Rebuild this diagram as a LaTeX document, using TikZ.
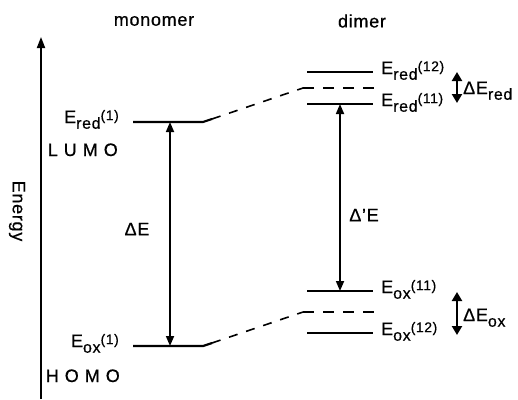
\documentclass[tikz,border=0pt]{standalone}
\usepackage{fontspec}
\setmainfont[LetterSpace=4,FakeBold=0.6]{Liberation Sans}
\usetikzlibrary{arrows.meta}
% energy symbol with subscript and bracketed superscript
\newcommand{\lvl}[2]{E\raisebox{-0.6ex}{\fontsize{16}{16}\selectfont #1}\raisebox{0.3ex}{\fontsize{14}{14}\selectfont(#2)}}
\newcommand{\dsub}[2]{ΔE\raisebox{-0.6ex}{\fontsize{16}{16}\selectfont #2}}
\begin{document}
\begin{tikzpicture}[x=1pt,y=-1pt,font=\fontsize{18}{20}\selectfont,
  level/.style={line width=2.2pt},
  midlevel/.style={line width=1.8pt,dash pattern=on 11pt off 9pt},
  link/.style={line width=1.6pt,dash pattern=on 9pt off 9pt},
  gap/.style={line width=1.7pt,{Triangle[length=10pt,width=8pt]}-{Triangle[length=10pt,width=8pt]}},
  split/.style={line width=2.2pt,{Triangle[length=9pt,width=10pt]}-{Triangle[length=9pt,width=10pt]}},
  lvllabel/.style={inner sep=0pt}]
\useasboundingbox (0,0) rectangle (518,399);

% energy axis
\coordinate (ax0) at (41,399);
\coordinate (ax1) at (41,37);
\draw[line width=1.9pt,-{Triangle[length=11pt,width=8pt]}] (ax0) -- (ax1);
\node[rotate=-90] (energy) at (17,211) {Energy};

% column headings
\node (mono) at (154,21) {monomer};
\node (dim) at (362,21) {dimer};

% monomer levels
\coordinate (mL1) at (133,122); \coordinate (mL2) at (203,122); \coordinate (mL3) at (212,119);
\coordinate (mH1) at (133,346); \coordinate (mH2) at (203,346); \coordinate (mH3) at (212,343);
\draw[level] (mL1) -- (mL2) -- (mL3);
\draw[level] (mH1) -- (mH2) -- (mH3);

% dimer levels
\coordinate (r12a) at (307,72);  \coordinate (r12b) at (373,72);
\coordinate (rma)  at (303,88);  \coordinate (rmb)  at (375,88);
\coordinate (r11a) at (307,104); \coordinate (r11b) at (373,104);
\coordinate (o11a) at (307,291); \coordinate (o11b) at (373,291);
\coordinate (oma)  at (303,312); \coordinate (omb)  at (375,312);
\coordinate (o12a) at (307,333); \coordinate (o12b) at (373,333);
\draw[level] (r12a) -- (r12b);
\draw[level] (r11a) -- (r11b);
\draw[level] (o11a) -- (o11b);
\draw[level] (o12a) -- (o12b);
\draw[midlevel] (rma) -- (rmb);
\draw[midlevel] (oma) -- (omb);

% correlation lines
\draw[link] (mL3) -- (rma);
\draw[link] (mH3) -- (oma);

% transition gaps
\coordinate (g1t) at (170,122); \coordinate (g1b) at (170,346);
\coordinate (g2t) at (340,104); \coordinate (g2b) at (340,291);
\draw[gap] (g1t) -- (g1b);
\draw[gap] (g2t) -- (g2b);
\node (dE) at (137,229) {ΔE};
\node (dpE) at (364,215) {Δ'E};

% splittings
\coordinate (s1t) at (457,72); \coordinate (s1b) at (457,103);
\coordinate (s2t) at (457,292); \coordinate (s2b) at (457,335);
\draw[split] (s1t) -- (s1b);
\draw[split] (s2t) -- (s2b);
\node[lvllabel,anchor=base west] (dEred) at (463,94) {\dsub{}{red}};
\node[lvllabel,anchor=base west] (dEox) at (463,321) {\dsub{}{ox}};

% level labels
\node[lvllabel,anchor=base east] (lred1) at (119,123) {\lvl{red}{1}};
\node[lvllabel,anchor=base east] (lumo) at (118,156) {L\hspace{6pt}U\hspace{6pt}M\hspace{6pt}O};
\node[lvllabel,anchor=base east] (lox1) at (119,347) {\lvl{ox}{1}};
\node[lvllabel,anchor=base east] (homo) at (120,382) {H\hspace{6pt}O\hspace{6pt}M\hspace{6pt}O};
\node[lvllabel,anchor=base west] (lred12) at (381,74) {\lvl{red}{12}};
\node[lvllabel,anchor=base west] (lred11) at (381,106) {\lvl{red}{11}};
\node[lvllabel,anchor=base west] (lox11) at (381,293) {\lvl{ox}{11}};
\node[lvllabel,anchor=base west] (lox12) at (381,335) {\lvl{ox}{12}};
\end{tikzpicture}
\end{document}
